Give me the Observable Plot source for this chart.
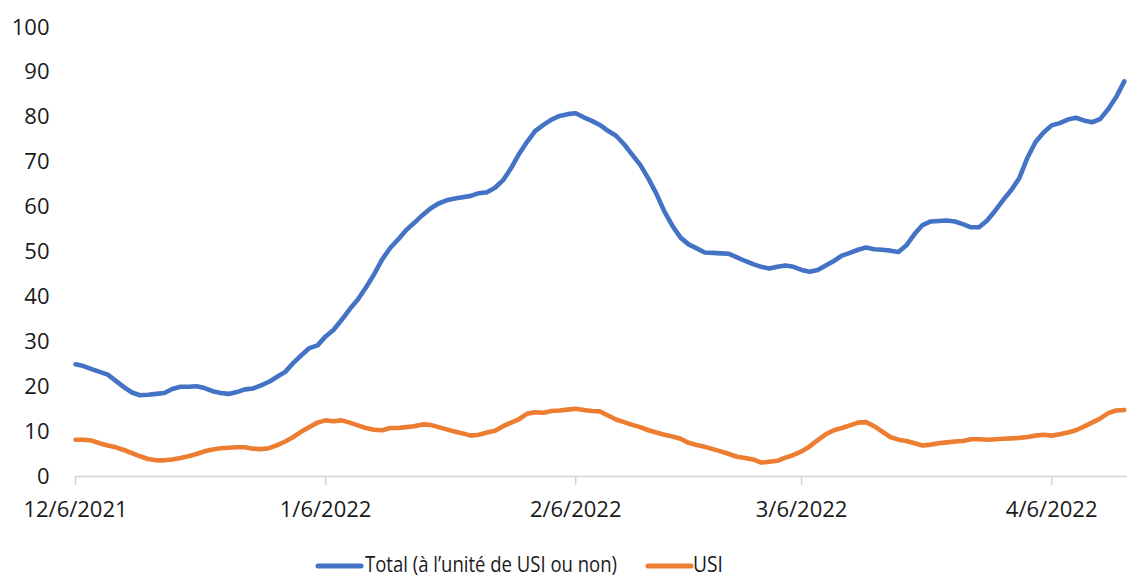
<!DOCTYPE html>
<html>
<head>
<meta charset="utf-8">
<script src="https://cdn.jsdelivr.net/npm/d3@7"></script>
<script src="https://cdn.jsdelivr.net/npm/@observablehq/plot@0.6"></script>
<style>
  html, body { margin: 0; padding: 0; background: #fff; }
  #wrap { position: relative; width: 1127px; height: 577px; overflow: hidden; font-family: "Open Sans", sans-serif; }
  #chart { position: absolute; left: 0; top: 0; }
  #legend { position: absolute; left: 0; top: 530px; }
</style>
</head>
<body>
<div id="wrap"><div id="chart"></div><div id="legend"></div></div>
<script>
// ---- data (daily values from 6 Dec 2021) ----
const startDay = [2021, 11, 6];
const seriesNames = ["Total (à l’unité de USI ou non)", "USI"];
const seriesColors = ["#4472C4", "#ED7D31"];
const totalValues = [
  25.0, 24.6, 23.9, 23.3, 22.7, 21.3, 19.9, 18.7, 18.1, 18.2,
  18.4, 18.6, 19.5, 20.0, 20.0, 20.1, 19.7, 19.0, 18.6, 18.4,
  18.8, 19.4, 19.6, 20.3, 21.1, 22.2, 23.3, 25.3, 27.0, 28.6,
  29.2, 31.2, 32.7, 34.9, 37.3, 39.4, 42.1, 45.0, 48.3, 50.9,
  52.8, 54.9, 56.5, 58.2, 59.7, 60.8, 61.5, 61.9, 62.2, 62.5,
  63.1, 63.3, 64.3, 66.0, 68.7, 71.9, 74.6, 77.0, 78.3, 79.5,
  80.3, 80.7, 80.9, 80.0, 79.2, 78.3, 77.0, 75.9, 74.0, 71.7,
  69.4, 66.4, 63.0, 59.0, 55.8, 53.2, 51.7, 50.8, 49.9, 49.8,
  49.7, 49.6, 48.8, 48.0, 47.3, 46.7, 46.3, 46.7, 47.0, 46.7,
  46.0, 45.6, 46.0, 47.0, 48.0, 49.2, 49.8, 50.5, 51.0, 50.6,
  50.5, 50.3, 50.0, 51.5, 54.0, 56.0, 56.8, 56.9, 57.0, 56.8,
  56.2, 55.5, 55.5, 57.0, 59.2, 61.6, 63.8, 66.5, 71.0, 74.5,
  76.6, 78.2, 78.7, 79.5, 79.9, 79.3, 78.9, 79.6, 81.8, 84.5,
  88.0
];
const usiValues = [
  8.2, 8.2, 8.0, 7.4, 6.9, 6.5, 5.9, 5.2, 4.5, 3.9,
  3.6, 3.6, 3.8, 4.1, 4.5, 5.0, 5.6, 6.0, 6.3, 6.4,
  6.5, 6.5, 6.2, 6.1, 6.3, 7.0, 7.8, 8.8, 10.0, 11.0,
  12.0, 12.5, 12.3, 12.5, 12.0, 11.4, 10.8, 10.4, 10.3, 10.8,
  10.8, 11.0, 11.2, 11.6, 11.5, 11.0, 10.5, 10.0, 9.6, 9.1,
  9.3, 9.8, 10.2, 11.2, 12.0, 12.8, 14.0, 14.3, 14.2, 14.6,
  14.7, 14.9, 15.1, 14.8, 14.6, 14.5, 13.6, 12.7, 12.1, 11.5,
  11.0, 10.3, 9.8, 9.3, 8.9, 8.4, 7.5, 7.0, 6.6, 6.1,
  5.6, 5.0, 4.4, 4.1, 3.8, 3.1, 3.3, 3.5, 4.2, 4.8,
  5.6, 6.7, 8.1, 9.4, 10.3, 10.8, 11.4, 12.0, 12.1, 11.2,
  10.0, 8.8, 8.2, 7.9, 7.4, 6.9, 7.1, 7.4, 7.6, 7.8,
  7.9, 8.3, 8.3, 8.2, 8.3, 8.4, 8.5, 8.6, 8.8, 9.1,
  9.3, 9.1, 9.4, 9.8, 10.3, 11.1, 12.0, 12.9, 14.1, 14.7,
  14.8
];
const xTickDates = ["2021-12-06", "2022-01-06", "2022-02-06", "2022-03-06", "2022-04-06"];
const xTickLabels = ["12/6/2021", "1/6/2022", "2/6/2022", "3/6/2022", "4/6/2022"];
const yTicks = [0, 10, 20, 30, 40, 50, 60, 70, 80, 90, 100];

// ---- build table ----
const start = new Date(Date.UTC(...startDay));
const rows = [];
totalValues.forEach((v, i) => rows.push({date: d3.utcDay.offset(start, i), value: v, series: seriesNames[0]}));
usiValues.forEach((v, i) => rows.push({date: d3.utcDay.offset(start, i), value: v, series: seriesNames[1]}));
const tickDates = xTickDates.map(s => new Date(s + "T00:00:00Z"));
const labelOf = d => xTickLabels[tickDates.findIndex(t => +t === +d)];
const xEnd = new Date(+start + 130.4 * 864e5);

const chart = Plot.plot({
  width: 1127,
  height: 530,
  marginLeft: 75,
  marginRight: 0,
  marginTop: 27,
  marginBottom: 54,
  style: {fontFamily: "Open Sans, sans-serif", fontSize: "22px", color: "#1a1a1a", background: "#fff", overflow: "visible"},
  x: {type: "utc", domain: [start, xEnd]},
  y: {domain: [0, 100]},
  color: {domain: seriesNames, range: seriesColors},
  marks: [
    Plot.axisY({ticks: yTicks, tickSize: 0, tickPadding: 26, fontSize: 22, label: null, fill: "#1a1a1a"}),
    Plot.axisX({ticks: tickDates, tickFormat: labelOf, tickSize: 9, tickPadding: 16, fontSize: 22, label: null, stroke: "#d4d4d4", strokeWidth: 1.5, fill: "#1a1a1a"}),
    Plot.ruleY([0], {stroke: "#d4d4d4", strokeWidth: 1.5}),
    Plot.line(rows, {x: "date", y: "value", z: "series", stroke: "series", strokeWidth: 4.6, strokeLinejoin: "round", strokeLinecap: "round"})
  ]
});
document.getElementById("chart").appendChild(chart);

// ---- legend ----
const leg = d3.select("#legend").append("svg").attr("width", 1127).attr("height", 47);
const legItems = [
  {name: seriesNames[0], color: seriesColors[0], x1: 318, x2: 361, tx: 365, tw: 252},
  {name: seriesNames[1], color: seriesColors[1], x1: 648, x2: 691, tx: 693, tw: 30}
];
legItems.forEach(it => {
  leg.append("line").attr("x1", it.x1).attr("x2", it.x2).attr("y1", 36).attr("y2", 36)
    .attr("stroke", it.color).attr("stroke-width", 5).attr("stroke-linecap", "round");
  leg.append("text").attr("x", it.tx).attr("y", 41.5).text(it.name)
    .attr("font-family", "Open Sans, sans-serif").attr("font-size", 21).attr("fill", "#1a1a1a")
    .attr("textLength", it.tw).attr("lengthAdjust", "spacingAndGlyphs");
});
</script>
</body>
</html>
